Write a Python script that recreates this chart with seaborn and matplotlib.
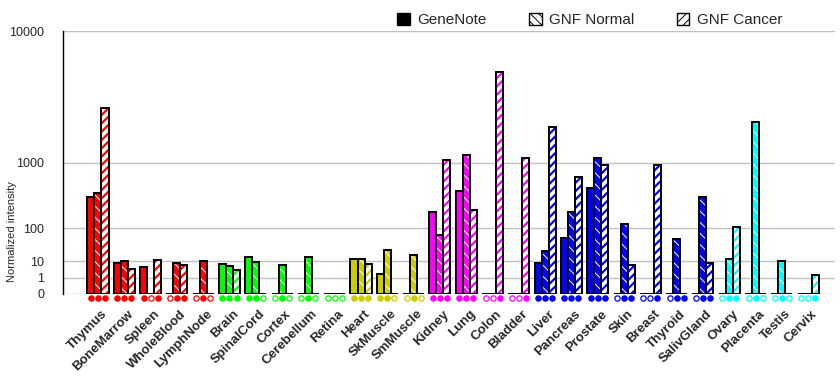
import numpy as np
import pandas as pd
import matplotlib
matplotlib.use("Agg")
import matplotlib.pyplot as plt
import matplotlib.transforms as mtransforms
from matplotlib.patches import Patch, Rectangle
import seaborn as sns

nan = np.nan
tissues = ["Thymus", "BoneMarrow", "Spleen", "WholeBlood", "LymphNode",
           "Brain", "SpinalCord", "Cortex", "Cerebellum", "Retina",
           "Heart", "SkMuscle", "SmMuscle",
           "Kidney", "Lung", "Colon", "Bladder",
           "Liver", "Pancreas", "Prostate", "Skin", "Breast", "Thyroid", "SalivGland",
           "Ovary", "Placenta", "Testis", "Cervix"]
tissue_colors = (["#ff0000"] * 5 + ["#00ff00"] * 5 + ["#cccc00"] * 3 +
                 ["#ff00ff"] * 4 + ["#0000ff"] * 7 + ["#00ffff"] * 4)

gene_note = [366, 8.3, 5.2, nan, nan, 7.4, 14.9, nan, nan, nan, 12.4, 1.9, nan,
             205, 447, nan, nan, 8.3, 57, 492, nan, nan, nan, nan, nan, nan, nan, nan]
gnf_normal = [419, 10.2, nan, 8.3, 10.6, 5.9, 8.7, 6.6, 14.9, nan, 12.4, 25.4, 17.8,
              70, 1212, nan, nan, 23.5, 205, 1110, 126, nan, 53.7, 359, 12.9, 2428, 10.6, nan]
gnf_cancer = [3150, 4.3, 11.7, 6.6, nan, 3.7, nan, nan, nan, nan, 7.4, nan, nan,
              1073, 227, 5654, 1110, 2215, 672, 946, 6.6, 930, 0, 8.3, 109, nan, nan, 1.75]

series = ["GeneNote", "GNF Normal", "GNF Cancer"]
yticks = [0, 1, 10, 100, 1000, 10000]

df = pd.DataFrame({
    "tissue": tissues * 3,
    "series": np.repeat(series, len(tissues)),
    "value": gene_note + gnf_normal + gnf_cancer,
})
df["height"] = df["value"].fillna(0)

sns.set_style("white")
plt.rcParams["font.family"] = ["Liberation Sans", "DejaVu Sans"]
plt.rcParams["hatch.linewidth"] = 0.7

fig = plt.figure(figsize=(8.4, 3.85), dpi=100)
ax = fig.add_axes([63 / 840, 1 - 294 / 385, (835 - 63) / 840, (294 - 31) / 385])

# escala "potencia": cada década duplica la distancia
p = np.log10(2)
ax.set_yscale("function", functions=(lambda v: np.sign(v) * np.abs(v) ** p,
                                     lambda y: np.sign(y) * np.abs(y) ** (1 / p)))

sns.barplot(data=df, x="tissue", y="height", hue="series", order=tissues,
            hue_order=series, errorbar=None, dodge=True, legend=False, ax=ax)

hatches = [None, "\\\\\\", "////"]
for j, cont in enumerate(ax.containers):
    for i, bar in enumerate(cont):
        c = tissue_colors[i]
        if j == 0:
            bar.set_facecolor(c)
            bar.set_edgecolor(c)
        elif j == 1:
            bar.set_facecolor(c)
            bar.set_edgecolor("white")
            bar.set_hatch(hatches[j])
        else:
            bar.set_facecolor("white")
            bar.set_edgecolor(c)
            bar.set_hatch(hatches[j])
            if hasattr(bar, "set_hatch_linewidth"):
                bar.set_hatch_linewidth(1.6)
        bar.set_linewidth(0)
        bar.set_zorder(2)
        ax.add_patch(Rectangle(bar.get_xy(), bar.get_width(), bar.get_height(),
                               fill=False, edgecolor="black", lw=1.4, zorder=3))

# marcadores de presencia bajo cada barra
trans = mtransforms.blended_transform_factory(ax.transData, ax.transAxes)
for j, vals in enumerate([gene_note, gnf_normal, gnf_cancer]):
    for i, v in enumerate(vals):
        x = i + (j - 1) * 0.8 / 3
        filled = not np.isnan(v)
        ax.plot(x, -0.017, marker="o", ms=3.8, mew=0.9,
                mfc=tissue_colors[i] if filled else "white",
                mec=tissue_colors[i], transform=trans, clip_on=False, zorder=4)

ax.set_ylim(0, 10000)
ax.set_xlim(-1.33, 28.02)
ax.set_yticks(yticks)
ax.set_yticklabels([str(t) for t in yticks], fontsize=9)
ax.yaxis.set_minor_locator(matplotlib.ticker.NullLocator())
ax.tick_params(axis="y", direction="out", length=6.5, width=1, color="black", pad=7)
ax.yaxis.grid(True, color="#c0c0c0", lw=1)
ax.set_axisbelow(True)
for s in ["top", "right", "bottom"]:
    ax.spines[s].set_visible(False)
ax.spines["left"].set_color("black")
ax.spines["left"].set_linewidth(1)
ax.set_xlabel("")
ax.set_ylabel("")

ax.set_xticks(range(len(tissues)))
ax.set_xticklabels(tissues, rotation=45, ha="right", rotation_mode="anchor",
                   fontsize=9.5, fontweight="bold")
ax.tick_params(axis="x", length=0, pad=10)
offset = mtransforms.ScaledTranslation(3 / 100, 0, fig.dpi_scale_trans)
for lab in ax.get_xticklabels():
    lab.set_transform(lab.get_transform() + offset)

fig.text(12 / 840, 1 - 232 / 385, "Normalized intensity", rotation=90,
         ha="center", va="center", fontsize=8)

handles = [Patch(facecolor="black", edgecolor="black"),
           Patch(facecolor="white", edgecolor="black", hatch="\\\\\\\\"),
           Patch(facecolor="white", edgecolor="black", hatch="////")]
fig.legend(handles, series, loc="center", bbox_to_anchor=(590 / 840, 1 - 20 / 385),
           ncol=3, frameon=False, fontsize=11, handlelength=0.8, handleheight=0.8,
           handletextpad=0.5, columnspacing=2.8)

fig.savefig("out.png", dpi=100)
